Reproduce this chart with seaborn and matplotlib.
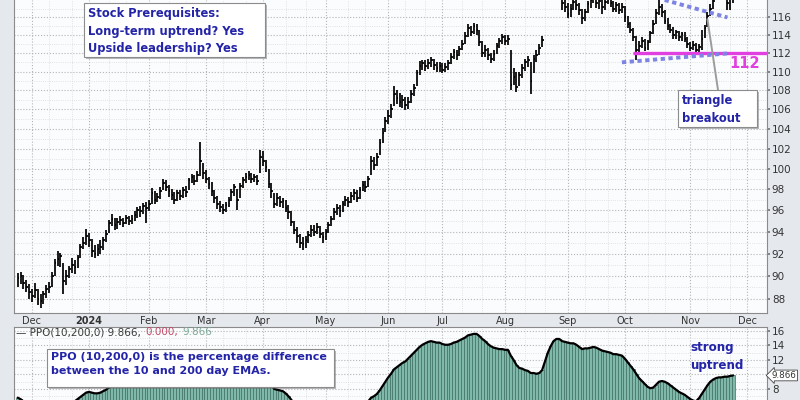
import numpy as np
import pandas as pd
import matplotlib
matplotlib.use("Agg")
import matplotlib.pyplot as plt
import matplotlib.patheffects as pe
from matplotlib.patches import Rectangle
from matplotlib.ticker import NullLocator
from matplotlib.offsetbox import TextArea, HPacker, AnchoredOffsetbox
import seaborn as sns

# trading calendar (NYSE holidays in the window)
HOLIDAYS = ["2023-12-25", "2024-01-01", "2024-01-15", "2024-02-19", "2024-03-29",
            "2024-05-27", "2024-06-19", "2024-07-04", "2024-09-02", "2024-11-28"]
START = "2023-11-24"

# daily close / high / low (10 bars per row)
close = [
    89.8, 90.0, 89.4, 89.0, 88.6, 88.3, 88.8, 88.0, 87.8, 88.4,
    88.9, 89.0, 90.0, 91.2, 91.5, 91.8, 89.6, 90.0, 90.6, 91.0,
    90.8, 91.6, 92.6, 93.0, 93.6, 93.2, 92.2, 92.0, 92.4, 92.6,
    93.2, 93.8, 94.8, 95.2, 94.6, 94.9, 95.1, 94.8, 95.3, 95.0,
    95.2, 95.6, 96.0, 95.9, 96.4, 96.2, 96.6, 97.6, 97.0, 97.3,
    97.8, 98.6, 98.2, 97.8, 97.5, 97.0, 97.6, 97.4, 97.9, 97.7,
    98.9, 99.2, 98.8, 99.4, 100.8, 99.6, 99.0, 98.5, 97.8, 97.2,
    96.6, 96.3, 96.0, 96.5, 97.0, 97.7, 98.2, 97.0, 98.3, 98.9,
    99.2, 99.4, 99.0, 99.2, 98.8, 101.2, 100.8, 100.2, 98.5, 97.8,
    96.6, 97.2, 96.8, 96.9, 96.2, 95.8, 94.9, 94.2, 93.6, 93.0,
    92.9, 93.2, 93.7, 94.2, 94.0, 94.4, 93.8, 93.5, 94.0, 94.6,
    95.2, 95.8, 96.2, 95.9, 96.6, 97.0, 96.8, 97.4, 97.6, 97.2,
    97.9, 98.4, 98.2, 99.0, 100.8, 100.4, 101.2, 102.6, 103.6, 104.8,
    105.3, 106.0, 107.6, 107.2, 106.8, 107.0, 106.4, 106.8, 107.6, 108.2,
    109.8, 110.6, 110.9, 110.6, 110.9, 111.2, 110.7, 110.4, 110.6, 110.2,
    110.5, 110.9, 111.6, 112.1, 111.8, 112.5, 113.0, 113.9, 114.8, 114.4,
    115.0, 114.6, 113.2, 112.0, 112.4, 111.8, 111.4, 111.9, 112.8, 113.3,
    113.8, 113.4, 113.6, 108.6, 109.4, 108.3, 109.6, 110.4, 111.0, 111.2,
    109.0, 111.4, 111.8, 112.6, 113.5, 119.5, 120.2, 120.8, 121.0, 120.4,
    119.6, 117.6, 117.2, 116.4, 117.0, 117.8, 117.4, 116.8, 115.9, 116.6,
    117.5, 118.0, 118.4, 117.6, 117.9, 117.2, 117.8, 118.3, 117.6, 117.0,
    117.4, 116.8, 117.2, 116.0, 115.2, 114.6, 113.8, 112.4, 112.8, 113.4,
    112.6, 113.2, 114.2, 115.3, 116.5, 117.2, 116.6, 115.6, 115.0, 114.6,
    114.0, 114.3, 113.8, 114.1, 113.6, 113.0, 112.6, 112.9, 112.3, 112.7,
    113.6, 114.8, 116.2, 117.0, 117.9, 118.9, 119.4, 119.6, 119.2, 117.6,
    118.1, 118.4,
]
high = [
    90.3, 90.4, 90.1, 89.7, 89.3, 88.9, 89.4, 88.9, 88.4, 88.7,
    89.2, 89.5, 90.4, 91.5, 92.2, 92.1, 91.2, 90.5, 90.9, 91.6,
    91.4, 91.9, 92.9, 93.5, 94.3, 93.9, 93.3, 92.8, 92.9, 93.2,
    93.5, 94.2, 95.1, 95.7, 95.3, 95.3, 95.5, 95.3, 95.6, 95.5,
    95.6, 95.9, 96.3, 96.4, 96.7, 96.8, 97.0, 98.1, 97.8, 97.6,
    98.2, 99.0, 98.9, 98.4, 98.0, 97.7, 97.9, 97.9, 98.2, 98.3,
    99.1, 99.5, 99.4, 99.8, 102.7, 100.6, 99.9, 99.2, 98.7, 97.9,
    97.4, 96.9, 96.6, 96.8, 97.3, 98.0, 98.5, 98.0, 98.6, 99.2,
    99.6, 99.8, 99.6, 99.5, 99.4, 101.9, 101.8, 100.9, 100.0, 98.6,
    97.6, 97.6, 97.4, 97.2, 97.0, 96.5, 95.9, 95.0, 94.4, 93.8,
    93.5, 93.6, 94.1, 94.6, 94.6, 94.8, 94.5, 94.0, 94.3, 94.9,
    95.5, 96.2, 96.6, 96.5, 96.9, 97.4, 97.3, 97.7, 98.0, 97.9,
    98.2, 98.8, 98.8, 99.3, 101.3, 101.2, 101.6, 103.0, 104.1, 105.2,
    105.9, 106.6, 108.4, 108.0, 107.7, 107.5, 107.3, 107.3, 108.0, 108.7,
    110.2, 111.1, 111.3, 111.2, 111.4, 111.6, 111.4, 111.0, 111.0, 110.9,
    110.9, 111.3, 112.0, 112.5, 112.4, 112.8, 113.5, 114.3, 115.2, 115.0,
    115.4, 115.2, 114.6, 113.4, 112.9, 112.6, 112.0, 112.3, 113.1, 113.7,
    114.1, 114.0, 114.0, 112.4, 110.4, 109.9, 110.0, 110.8, 111.4, 111.7,
    111.0, 111.8, 112.3, 113.0, 113.9, 120.4, 120.8, 121.4, 121.6, 121.2,
    120.6, 119.0, 118.2, 117.6, 117.5, 118.3, 118.2, 117.7, 117.0, 117.0,
    117.9, 118.5, 118.9, 118.6, 118.3, 118.1, 118.2, 118.7, 118.6, 117.9,
    117.8, 117.6, 117.6, 117.3, 116.2, 115.5, 114.8, 113.9, 113.3, 113.8,
    113.6, 113.5, 114.5, 115.7, 117.0, 118.0, 117.5, 116.8, 115.9, 115.3,
    114.9, 114.6, 114.5, 114.4, 114.3, 113.8, 113.2, 113.3, 113.1, 113.0,
    114.6, 115.1, 116.6, 117.5, 118.6, 119.5, 120.0, 120.2, 119.9, 119.0,
    118.6, 118.8,
]
low = [
    89.0, 89.3, 88.9, 88.6, 88.0, 87.7, 88.1, 87.5, 87.2, 87.6,
    88.1, 88.5, 89.0, 90.0, 90.9, 90.8, 88.4, 89.2, 89.8, 90.3,
    90.2, 90.7, 91.6, 92.4, 92.8, 92.6, 91.7, 91.6, 91.8, 92.0,
    92.3, 93.1, 93.9, 94.5, 94.2, 94.3, 94.6, 94.4, 94.7, 94.6,
    94.7, 95.0, 95.3, 95.4, 95.7, 94.8, 95.9, 96.6, 96.6, 96.8,
    97.1, 97.9, 97.8, 97.3, 97.0, 96.6, 96.9, 97.0, 97.2, 97.3,
    97.9, 98.6, 98.4, 98.7, 99.3, 99.0, 98.6, 98.0, 97.4, 96.7,
    96.1, 95.8, 95.7, 95.8, 96.3, 96.9, 97.4, 96.0, 97.2, 98.1,
    98.6, 98.9, 98.6, 98.7, 98.4, 99.6, 100.3, 99.7, 98.1, 97.2,
    96.2, 96.4, 96.3, 96.2, 95.8, 95.2, 94.5, 93.8, 93.0, 92.5,
    92.3, 92.5, 93.0, 93.5, 93.6, 93.8, 93.4, 93.0, 93.2, 93.9,
    94.5, 95.1, 95.6, 95.4, 95.8, 96.4, 96.3, 96.7, 97.0, 96.8,
    97.1, 97.8, 97.7, 98.2, 99.4, 99.9, 100.3, 101.4, 102.6, 103.7,
    104.5, 105.1, 106.3, 106.6, 106.2, 106.1, 105.9, 106.0, 106.7, 107.4,
    108.4, 109.6, 110.2, 110.1, 110.3, 110.5, 110.2, 109.9, 110.0, 109.8,
    109.9, 110.2, 110.8, 111.4, 111.3, 111.7, 112.3, 113.0, 113.8, 113.9,
    114.1, 114.0, 112.8, 111.6, 111.6, 111.3, 110.9, 111.1, 111.9, 112.6,
    113.0, 112.9, 112.9, 108.0, 108.6, 107.8, 108.4, 109.3, 110.1, 110.5,
    107.6, 109.8, 111.0, 111.8, 112.7, 118.3, 119.3, 119.9, 120.2, 119.8,
    118.5, 116.8, 116.6, 115.9, 116.1, 116.9, 116.8, 116.3, 115.2, 115.6,
    116.5, 117.1, 117.6, 117.1, 117.0, 116.4, 116.9, 117.5, 117.2, 116.6,
    116.6, 116.4, 116.5, 115.5, 114.8, 114.2, 113.4, 111.3, 111.9, 112.6,
    112.2, 112.4, 113.1, 114.1, 115.2, 116.3, 116.1, 115.2, 114.6, 114.2,
    113.6, 113.6, 113.4, 113.4, 113.2, 112.6, 112.2, 112.3, 111.9, 112.0,
    112.4, 113.7, 114.9, 116.2, 117.0, 118.2, 118.6, 118.9, 118.5, 116.9,
    116.9, 117.6,
]
# PPO(10,200,0) daily values
ppo = [
    6.8, 6.6, 6.3, 6.0, 5.7, 5.5, 5.4, 5.2, 5.0, 4.9,
    4.9, 4.9, 5.1, 5.4, 5.7, 5.9, 5.8, 5.8, 5.9, 6.1,
    6.3, 6.6, 6.9, 7.2, 7.5, 7.6, 7.5, 7.4, 7.4, 7.5,
    7.7, 7.9, 8.2, 8.5, 8.6, 8.7, 8.8, 8.8, 8.9, 8.9,
    9.0, 9.1, 9.3, 9.4, 9.6, 9.7, 9.8, 10.1, 10.1, 10.2,
    10.3, 10.6, 10.7, 10.6, 10.5, 10.3, 10.3, 10.2, 10.3, 10.3,
    10.5, 10.7, 10.7, 10.9, 11.3, 11.2, 11.0, 10.7, 10.4, 10.0,
    9.6, 9.3, 9.0, 8.9, 8.9, 9.0, 9.1, 8.9, 9.0, 9.1,
    9.2, 9.3, 9.3, 9.3, 9.2, 9.6, 9.7, 9.6, 9.1, 8.6,
    8.0, 7.9, 7.8, 7.7, 7.4, 7.0, 6.5, 6.0, 5.5, 5.0,
    4.6, 4.4, 4.3, 4.3, 4.3, 4.3, 4.2, 4.1, 4.1, 4.2,
    4.3, 4.5, 4.7, 4.8, 5.0, 5.2, 5.3, 5.5, 5.6, 5.6,
    5.8, 6.0, 6.1, 6.3, 6.8, 7.0, 7.3, 7.8, 8.4, 9.0,
    9.6, 10.1, 10.7, 11.0, 11.3, 11.6, 11.8, 12.2, 12.6, 13.0,
    13.4, 13.8, 14.1, 14.3, 14.5, 14.6, 14.5, 14.4, 14.4, 14.2,
    14.1, 14.1, 14.2, 14.4, 14.5, 14.7, 14.9, 15.1, 15.4, 15.5,
    15.6, 15.6, 15.3, 14.9, 14.6, 14.2, 13.9, 13.7, 13.6, 13.5,
    13.5, 13.4, 13.4, 12.6, 12.0, 11.3, 10.9, 10.8, 10.6, 10.5,
    10.2, 10.2, 10.1, 10.2, 10.6, 11.8, 13.0, 13.9, 14.6, 14.9,
    14.9, 14.6, 14.5, 14.4, 14.3, 14.3, 14.1, 13.8, 13.5, 13.6,
    13.6, 13.7, 13.8, 13.7, 13.5, 13.3, 13.2, 13.1, 13.0, 12.8,
    12.8, 12.7, 12.6, 12.2, 11.7, 11.2, 10.7, 10.1, 9.5, 9.1,
    8.7, 8.3, 8.1, 8.2, 8.6, 9.0, 9.1, 9.0, 8.8, 8.5,
    8.2, 7.9, 7.6, 7.4, 7.2, 6.9, 6.6, 6.4, 6.3, 6.7,
    7.3, 7.9, 8.5, 9.0, 9.3, 9.5, 9.6, 9.6, 9.7, 9.7,
    9.8, 9.866,
]

month_labels = ["Dec", "2024", "Feb", "Mar", "Apr", "May", "Jun",
                "Jul", "Aug", "Sep", "Oct", "Nov", "Dec"]
price_ticks = list(range(88, 118, 2))
ppo_ticks = [8, 10, 12, 14, 16]
ppo_tick_labels = ["8", "", "12", "14", "16"]

support = 112
support_from = "2024-10-04"
tri_upper = [("2024-10-21", 118.0), ("2024-11-20", 116.0)]
tri_lower = [("2024-09-30", 111.0), ("2024-11-21", 112.0)]
breakout_tip = ("2024-11-11", 115.8)

W, H = 800, 400
NOTE_BLUE = "#2424a8"
MAGENTA = "#e23fe0"

sns.set_theme(style="white")
plt.rcParams["font.family"] = ["DejaVu Sans"]

days = pd.bdate_range(START, "2024-12-31", freq="C", holidays=HOLIDAYS)
idx = np.arange(len(close))
month_pos = [i for i in range(1, len(days)) if days[i].month != days[i - 1].month][:len(month_labels)]
minor_pos = []
for i in range(1, len(days)):
    for d in (11, 21):
        if days[i].day >= d and days[i - 1].day < d and days[i].month == days[i - 1].month:
            minor_pos.append(i)
def day_index(s):
    return days.get_loc(pd.Timestamp(s))

fig = plt.figure(figsize=(8, 4), dpi=100)
fig.patch.set_facecolor("#e5e9ee")
ax1 = fig.add_axes([14 / W, 87 / H, 753 / W, 313 / H])
ax2 = fig.add_axes([14 / W, 0, 753 / W, 73 / H], sharex=ax1)

for ax in (ax1, ax2):
    ax.set_facecolor("#fbfcfd")
    for s in ax.spines.values():
        s.set_color("#8a8a8a")
        s.set_linewidth(0.8)
    ax.yaxis.tick_right()
    ax.set_xticks(month_pos)
    ax.set_xticks(minor_pos, minor=True)
    ax.grid(which="major", ls=":", color="#b5b5b5", lw=0.8)
    ax.grid(which="minor", ls=":", color="#dadada", lw=0.6)
    ax.tick_params(axis="y", which="major", labelsize=7.5, labelcolor="#333333",
                   length=2, color="#777777", pad=1.5)
    ax.tick_params(axis="y", which="minor", length=0)
    ax.tick_params(axis="x", which="both", length=0)
    ax.set_axisbelow(True)
ax1.spines["top"].set_visible(False)
ax2.spines["bottom"].set_visible(False)

# --- price panel: HLC bars
ax1.set_yscale("log")
ax1.vlines(idx, low, high, color="black", lw=1.25, zorder=3)
ax1.hlines(close, idx, idx + 0.6, color="black", lw=1.25, zorder=3)
ax1.set_xlim(-1.3, 262.9)
ax1.set_ylim(86.8, 118.0)
ax1.yaxis.set_minor_locator(NullLocator())
ax1.set_yticks(price_ticks)
ax1.set_yticklabels([str(t) for t in price_ticks])
ax1.set_yticks([t + 1 for t in price_ticks], minor=True)
ax1.set_yticklabels([], minor=True)
ax1.set_xticklabels(month_labels)
ax1.tick_params(axis="x", labelsize=7, labelcolor="#333333", pad=2.5)
for lab in ax1.get_xticklabels():
    if lab.get_text() == "2024":
        lab.set_fontweight("bold")

# support line and triangle
ax1.hlines(support, day_index(support_from), 262.9, color=MAGENTA, lw=2.4, zorder=4)
ax1.text(255, 110.9, "112", color=MAGENTA, fontsize=10.5, fontweight="bold",
         ha="center", va="center", zorder=5)
for line in (tri_upper, tri_lower):
    ax1.plot([day_index(d) for d, _ in line], [p for _, p in line],
             ls=(0, (1.1, 0.9)), lw=2.8, color="#7d84e4", zorder=4,
             solid_capstyle="butt", dash_capstyle="butt")
ax1.annotate("", xy=(day_index(breakout_tip[0]), breakout_tip[1]), xycoords="data",
             xytext=(718 / W, 1 - 90 / H), textcoords="figure fraction",
             arrowprops=dict(arrowstyle="-", color="#9c9c9c", lw=1.4,
                             shrinkA=0, shrinkB=0), annotation_clip=False, zorder=4)

# --- PPO panel
ax2.bar(idx, ppo, width=1.0, color="#80b8aa", edgecolor="#3f7064", linewidth=0.5, zorder=2)
sns.lineplot(x=idx, y=ppo, ax=ax2, color="black", lw=1.6, zorder=3)
ax2.set_ylim(6.48, 16.55)
ax2.set_yticks(ppo_ticks)
ax2.set_yticklabels(ppo_tick_labels)
ax2.set_yticks([7, 9, 11, 13, 15], minor=True)
ax2.set_yticklabels([], minor=True)
ax2.tick_params(axis="x", labelbottom=False)
ax2.set_xlabel("")
ax2.set_ylabel("")
ax2.annotate(f"{ppo[-1]:.3f}", xy=(1.0, ppo[-1]), xycoords=("axes fraction", "data"),
             xytext=(3.5, 0), textcoords="offset points", ha="left", va="center",
             fontsize=6.3, color="#333333", annotation_clip=False,
             bbox=dict(boxstyle="larrow,pad=0.1", fc="white", ec="#444444", lw=0.6))

legend = HPacker(children=[
    TextArea("\u2014 PPO(10,200,0) 9.866,", textprops=dict(color="#3a3a3a", size=7.5)),
    TextArea("0.000,", textprops=dict(color="#c24a68", size=7.5)),
    TextArea("9.866", textprops=dict(color="#7ea898", size=7.5)),
], align="baseline", pad=0, sep=3)
ax2.add_artist(AnchoredOffsetbox(loc="upper left", child=legend, pad=0, borderpad=0,
                                 frameon=False, bbox_to_anchor=(0.003, 0.995),
                                 bbox_transform=ax2.transAxes))

# --- note boxes
def note_box(x0, y0, x1, y1):
    r = Rectangle((x0 / W, 1 - y1 / H), (x1 - x0) / W, (y1 - y0) / H,
                  transform=fig.transFigure, fc="white", ec="#8c8c8c", lw=0.8, zorder=5)
    r.set_path_effects([pe.SimplePatchShadow(offset=(1.5, -1.5), shadow_rgbFace="#666666",
                                             alpha=0.45), pe.Normal()])
    fig.add_artist(r)

def note_text(x, y, s, size=8.3):
    fig.text(x / W, 1 - y / H, s, ha="left", va="top", color=NOTE_BLUE,
             fontsize=size, fontweight="bold", linespacing=1.45, zorder=6)

note_box(84, 3, 265, 57)
note_text(88, 7, "Stock Prerequisites:\nLong-term uptrend? Yes\nUpside leadership? Yes")
note_box(47, 349, 334, 387)
note_text(51, 352, "PPO (10,200,0) is the percentage difference\nbetween the 10 and 200 day EMAs.", 8.0)
note_box(678, 90, 757, 127)
note_text(682, 94, "triangle\nbreakout")
note_text(690, 341, "strong\nuptrend", 8.6)

fig.savefig("out.png", dpi=100, facecolor=fig.get_facecolor())
